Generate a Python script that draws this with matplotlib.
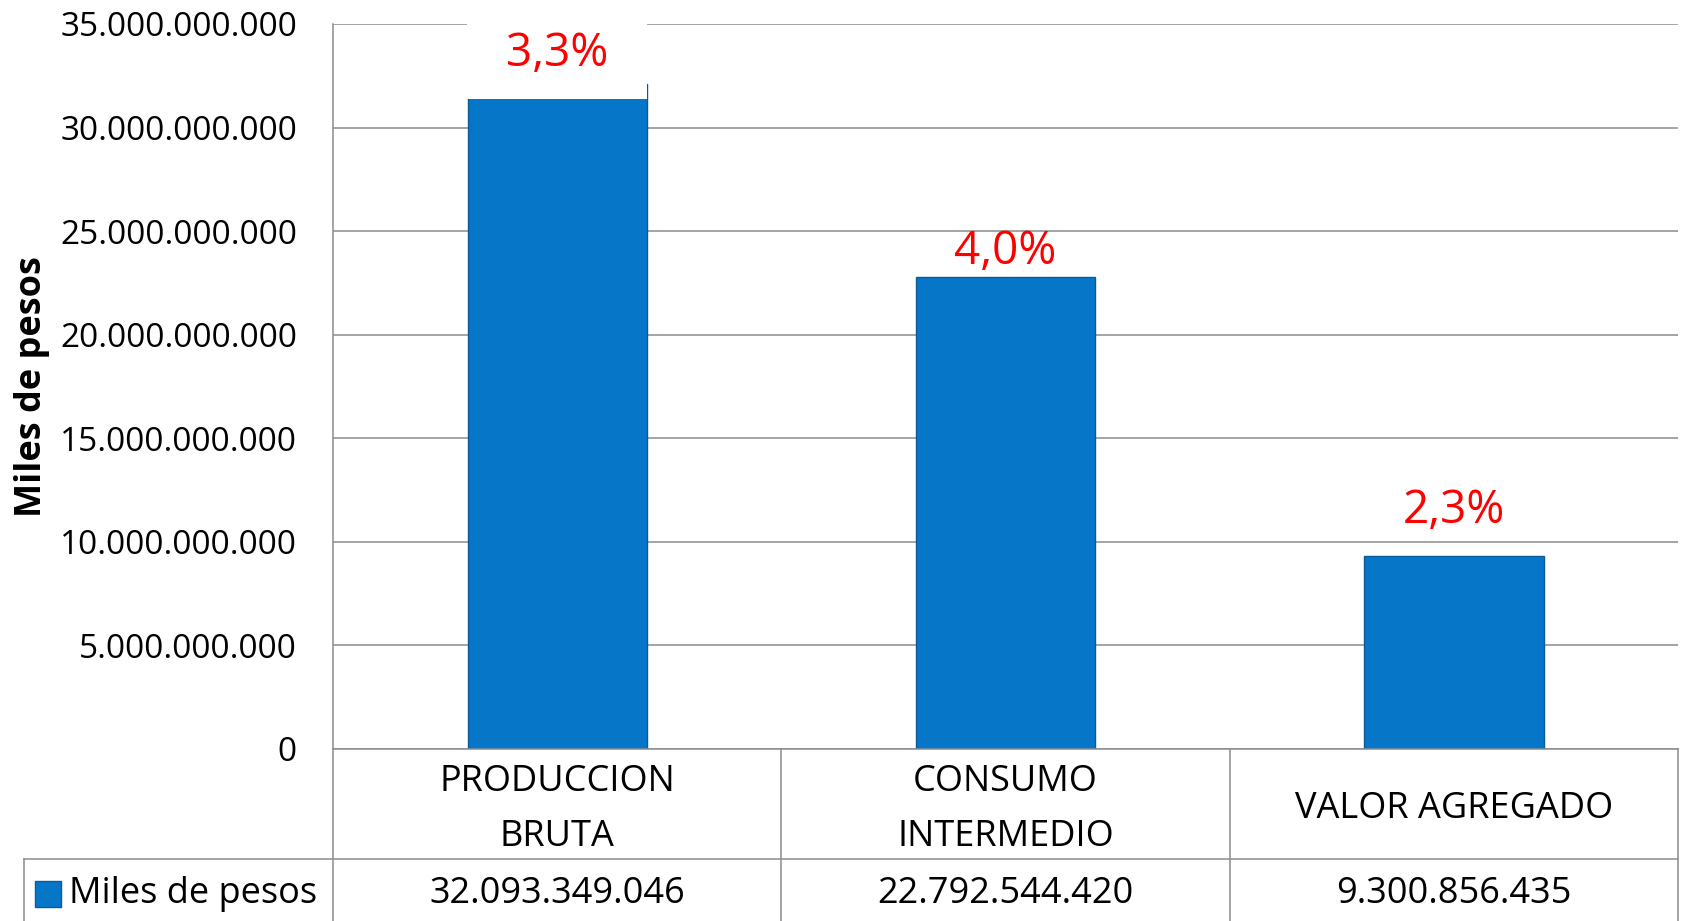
import numpy as np
import matplotlib.pyplot as plt
from matplotlib.path import Path
from matplotlib.transforms import blended_transform_factory

# === Datos ===
categorias = ['PRODUCCION\nBRUTA', 'CONSUMO\nINTERMEDIO', 'VALOR AGREGADO']
valores = [32093349046, 22792544420, 9300856435]
variacion = ['3,3%', '4,0%', '2,3%']
serie = 'Miles de pesos'
yticks = np.arange(0, 35e9 + 1, 5e9)

# desplazamiento de las etiquetas rojas sobre cada barra (pixeles)
offsets = [30, 25, 45]

azul = '#0677C8'
gris = '#8C8C8C'


def miles(v):
    return f'{v:,.0f}'.replace(',', '.')


def caja_blanca(x0, y0, width, height, mutation_size):
    # caja blanca ancha (como la del grafico original) detras de la etiqueta
    cx = x0 + width / 2
    cy = y0 + height / 2
    hw = 1.96 * mutation_size
    hh = 0.98 * mutation_size
    return Path([(cx - hw, cy - hh), (cx + hw, cy - hh), (cx + hw, cy + hh),
                 (cx - hw, cy + hh), (cx - hw, cy - hh)], closed=True)


plt.rcParams['font.family'] = ['Open Sans', 'DejaVu Sans']

fig = plt.figure(figsize=(16.83, 9.21), dpi=100)
ax = fig.add_axes([0.1979, 0.1868, 0.7992, 0.7872])

x = np.arange(len(valores))
ax.bar(x, valores, width=0.4, color=azul, edgecolor='#0B5A99', linewidth=1, zorder=2)

ax.set_xlim(-0.5, 2.5)
ax.set_ylim(0, 35e9)
ax.set_yticks(yticks)
ax.set_yticklabels([miles(v) for v in yticks], fontsize=24)
ax.tick_params(axis='y', length=0, pad=26)
ax.set_xticks([])
ax.grid(axis='y', color=gris, linewidth=1.1)
ax.set_axisbelow(True)
for s in ['top', 'right']:
    ax.spines[s].set_visible(False)
ax.spines['left'].set_color(gris)
ax.spines['bottom'].set_color(gris)
ax.spines['left'].set_linewidth(1.1)
ax.spines['bottom'].set_linewidth(1.1)

# etiquetas de variacion
for i, (v, t, off) in enumerate(zip(valores, variacion, offsets)):
    kw = {}
    if i == 0:
        kw['bbox'] = dict(boxstyle=caja_blanca, fc='white', ec='none')
    ax.annotate(t, xy=(i, v), xytext=(0, off), textcoords='offset pixels',
                ha='center', va='center', color='red', fontsize=33, zorder=5, **kw)

fig.text(32 / 1683, 1 - 387 / 921, 'Miles de pesos', rotation=90, ha='center', va='center',
         fontsize=26, fontweight='bold')

# === Tabla de datos ===
tr = blended_transform_factory(ax.transData, ax.transAxes)
y_cat = -0.083
y_val = -0.200
y_div = -0.152
y_bot = -0.24
x_left = -0.2297

for xv in [-0.5, 0.5, 1.5, 2.5]:
    ax.plot([xv, xv], [0, y_bot], color=gris, lw=1.1, transform=tr, clip_on=False)
ax.plot([x_left, 1], [y_div, y_div], color=gris, lw=1.1, transform=ax.transAxes, clip_on=False)
ax.plot([x_left, x_left], [y_div, y_bot], color=gris, lw=1.1, transform=ax.transAxes, clip_on=False)

for i, c in enumerate(categorias):
    ax.text(i, y_cat, c, transform=tr, ha='center', va='center', fontsize=26,
            linespacing=1.7, clip_on=False)
    ax.text(i, y_val, miles(valores[i]), transform=tr, ha='center', va='center',
            fontsize=26, clip_on=False)

ax.plot([-0.2119], [y_val], marker='s', markersize=18.5, color=azul, mec='#0B5A99',
        transform=ax.transAxes, clip_on=False)
ax.text(-0.196, y_val, serie, transform=ax.transAxes, ha='left', va='center',
        fontsize=26, clip_on=False)

fig.savefig('out.png', dpi=100)
